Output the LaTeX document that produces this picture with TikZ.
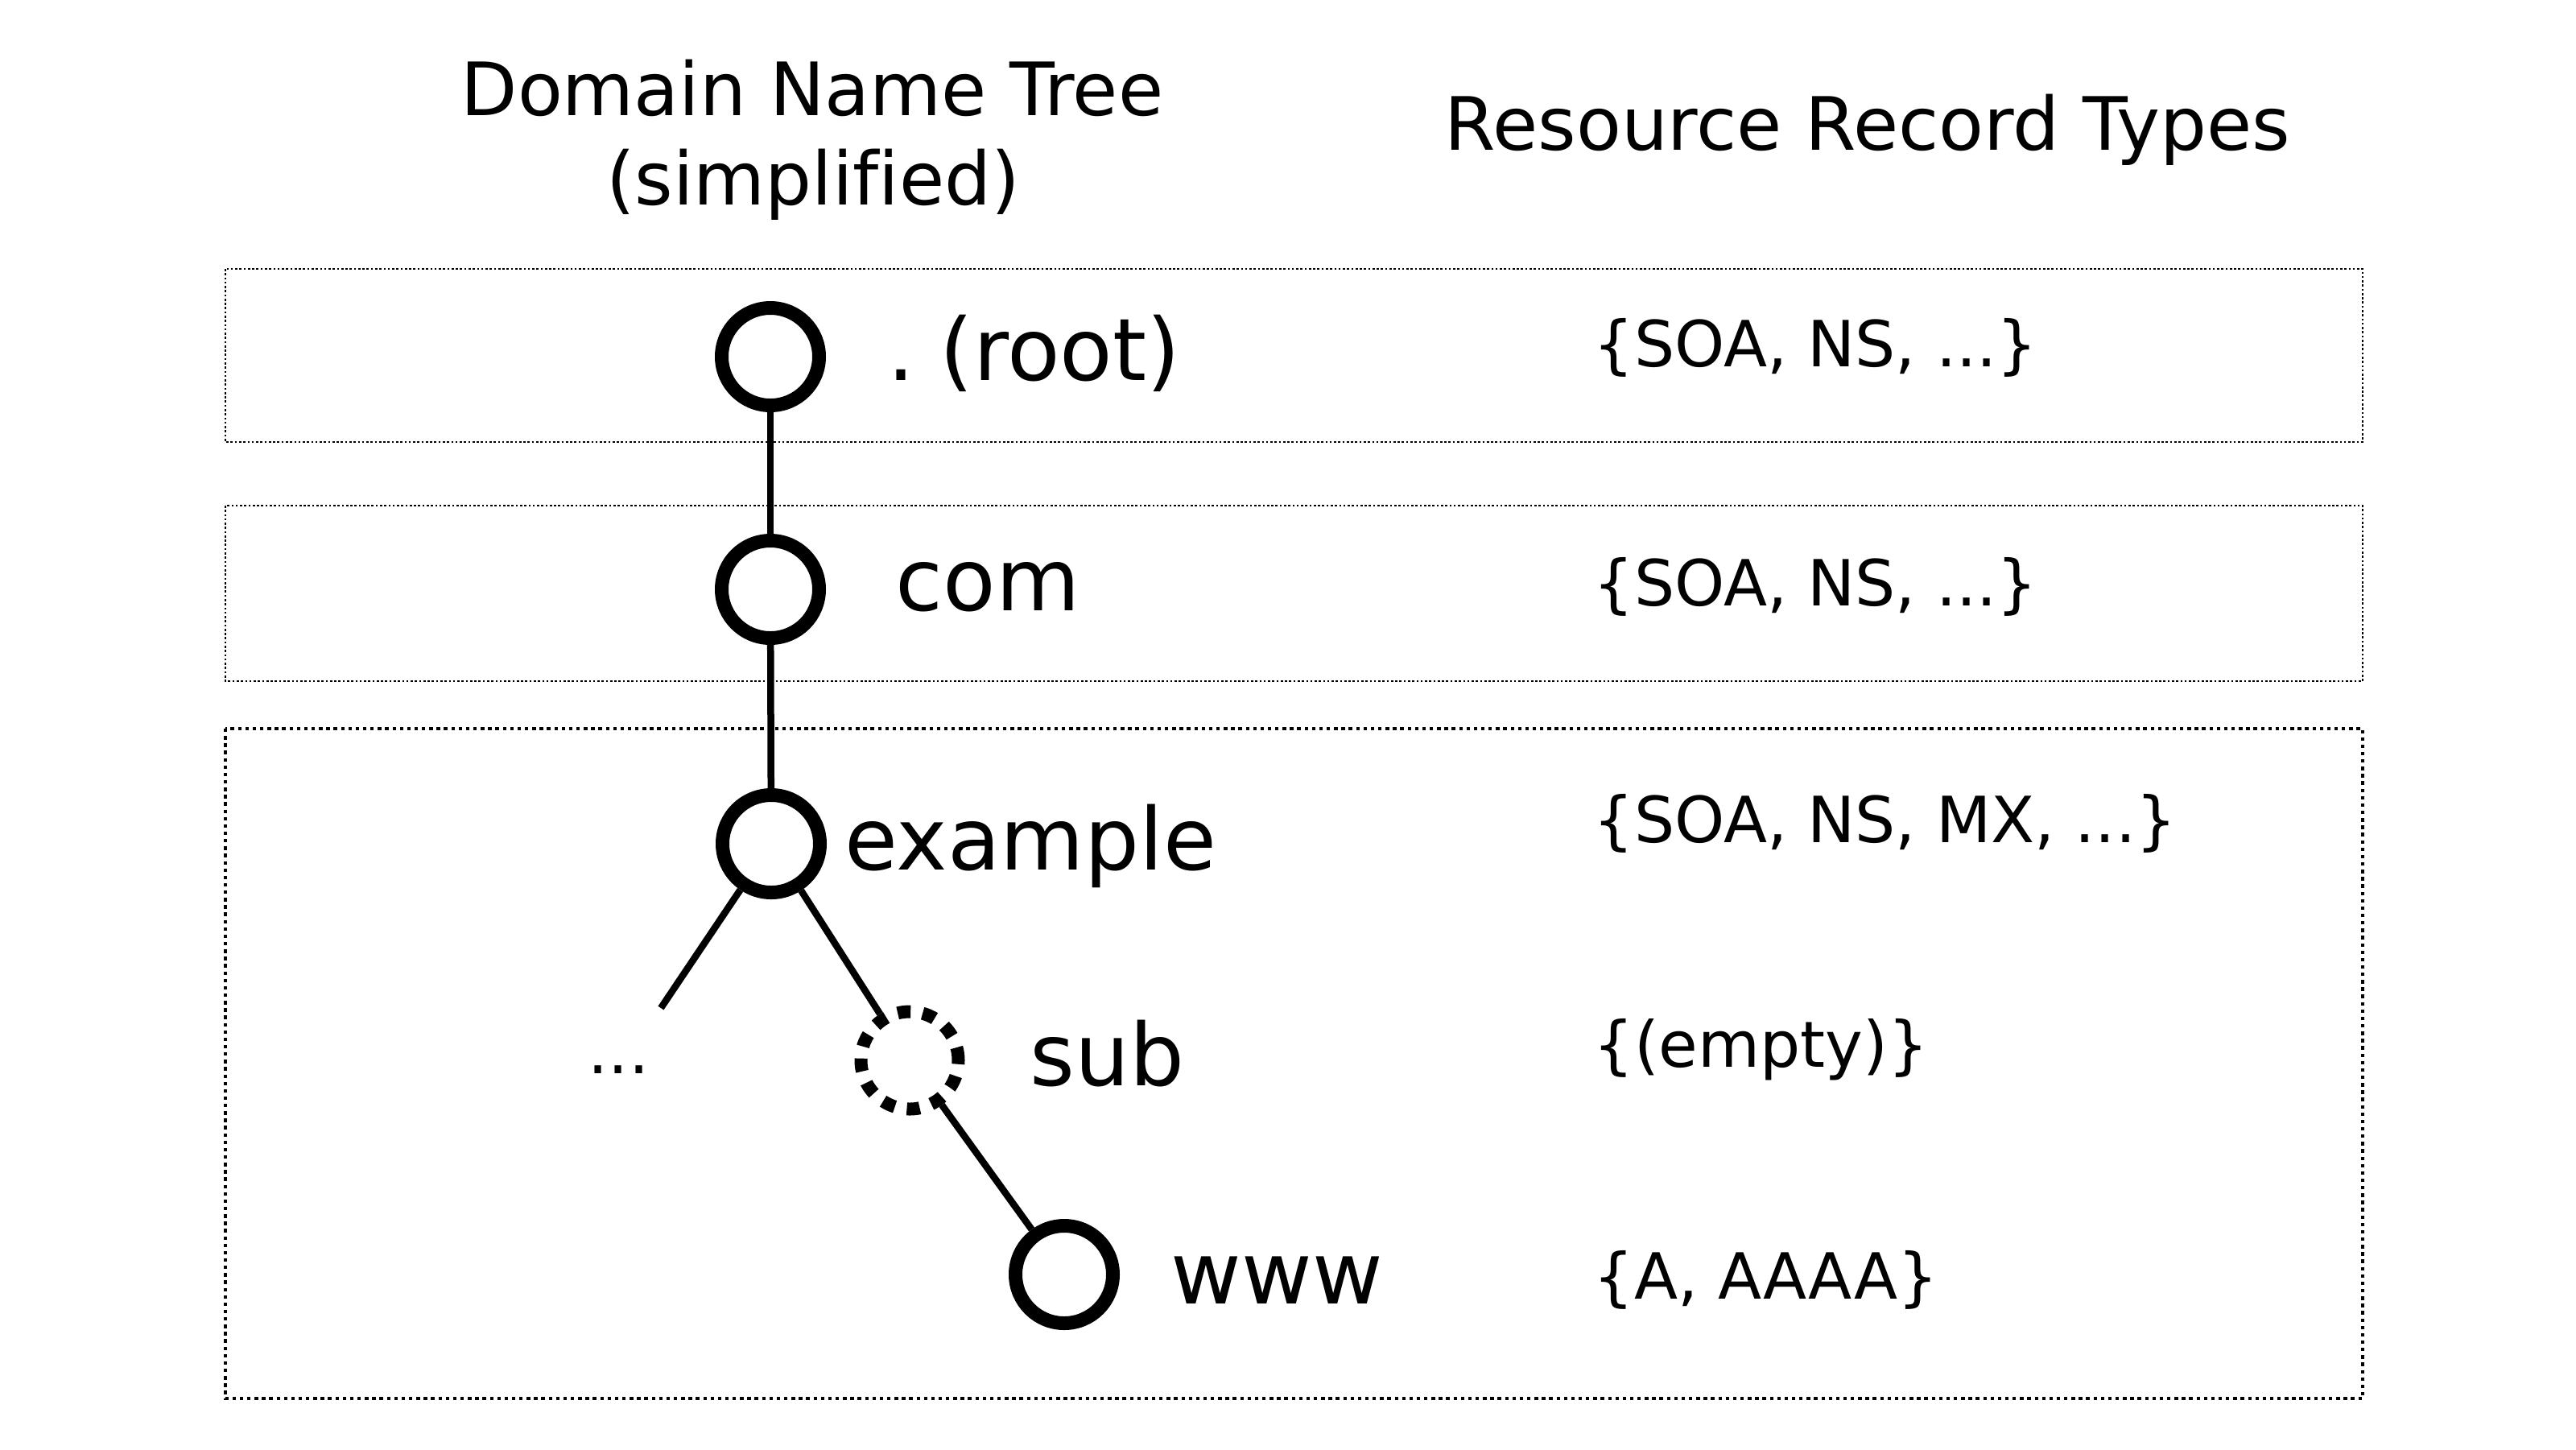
\documentclass[tikz,border=0pt]{standalone}
\usepackage{fontspec}
\setmainfont{DejaVu Sans}[Ligatures=NoCommon]
\begin{document}
\begin{tikzpicture}[
		zone/.style={line width=0.75pt, dash pattern=on 0.75pt off 0.75pt},
		bigzone/.style={line width=1.25pt, dash pattern=on 1.25pt off 1.35pt},
		dnsnode/.style={circle, draw, line width=0.17cm, minimum size=1.21cm, inner sep=0pt},
		emptynode/.style={dnsnode, line width=0.16cm, dash pattern=on 4.6pt off 4.3pt},
		edge/.style={line width=0.085cm},
		heading/.style={anchor=base, inner sep=0pt, font=\fontsize{26}{31}\selectfont},
		namelabel/.style={anchor=base west, inner sep=0pt, font=\fontsize{30.5}{36}\selectfont},
		rrset/.style={anchor=base west, inner sep=0pt, font=\fontsize{22.5}{27}\selectfont}]
		\useasboundingbox (0,0) rectangle (32,-18);
		\fill[white] (0,0) rectangle (32,-18);
		\draw[zone] (2.80,-3.34) rectangle (29.35,-5.49);
		\draw[zone] (2.80,-6.28) rectangle (29.35,-8.46);
		\draw[bigzone] (2.80,-9.05) rectangle (29.35,-17.37);
		\node[heading] (treetitle) at (10.09,-1.43) {Domain Name Tree};
		\node[heading] (treesub) at (10.10,-2.54) {(simplified)};
		\node[heading] (rrtitle) at (23.20,-1.86) {Resource Record Types};
		\node[dnsnode] (root) at (9.57,-4.43) {};
		\node[dnsnode] (com) at (9.57,-7.32) {};
		\node[dnsnode] (example) at (9.58,-10.48) {};
		\node[emptynode] (sub) at (11.30,-13.17) {};
		\node[dnsnode] (www) at (13.22,-15.83) {};
		\coordinate (moreend) at (8.21,-12.52);
		\node[rrset] (more) at (7.30,-13.33) {...};
		\draw[edge] (root) -- (com);
		\draw[edge] (com) -- (example);
		\draw[edge] (example) -- (moreend);
		\draw[edge] (example) -- (sub);
		\draw[edge] (sub) -- (www);
		\node[namelabel] (rootname) at (11.02,-4.72) {.\kern-0.03em\ (root)};
		\node[namelabel] (comname) at (11.12,-7.58) {com};
		\node[namelabel] (examplename) at (10.49,-10.80) {example};
		\node[namelabel] (subname) at (12.79,-13.48) {sub};
		\node[namelabel] (wwwname) at (14.54,-16.19) {www};
		\node[rrset] (rootrr) at (19.79,-4.55) {\{SOA, NS, ...\}};
		\node[rrset] (comrr) at (19.79,-7.52) {\{SOA, NS, ...\}};
		\node[rrset] (examplerr) at (19.79,-10.46) {\{SOA, NS, MX, ...\}};
		\node[rrset] (subrr) at (19.79,-13.25) {\{(empty)\}};
		\node[rrset] (wwwrr) at (19.79,-16.13) {\{A, AAAA\}};
	\end{tikzpicture}
\end{document}
